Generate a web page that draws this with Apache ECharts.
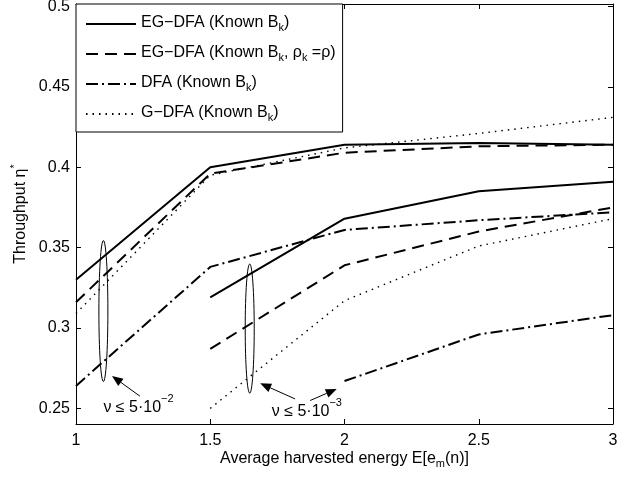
<!DOCTYPE html>
<html>
<head>
<meta charset="utf-8">
<script src="https://cdn.jsdelivr.net/npm/echarts@6/dist/echarts.min.js"></script>
<style>
  html, body { margin: 0; padding: 0; background: #fff; }
  #chart { width: 639px; height: 478px; }
</style>
</head>
<body>
<div id="chart"></div>
<script>
// x: average harvested energy
var energy = [1, 1.5, 2, 2.5, 3];
var yTicks = [0.25, 0.3, 0.35, 0.4, 0.45, 0.5];

// nu <= 5e-2
var egdfaHigh    = [0.330, 0.400, 0.414, 0.415, 0.414];
var egdfaRhoHigh = [0.316, 0.396, 0.409, 0.413, 0.414];
var dfaHigh      = [0.264, 0.338, 0.361, 0.367, 0.372];
var gdfaHigh     = [0.309, 0.395, 0.412, 0.421, 0.431];
// nu <= 5e-3
var egdfaLow     = [null, 0.319, 0.368, 0.385, 0.391];
var egdfaRhoLow  = [null, 0.287, 0.339, 0.360, 0.375];
var dfaLow       = [null, null, 0.267, 0.296, 0.308];
var gdfaLow      = [null, 0.250, 0.317, 0.351, 0.368];

var names = ['EG−DFA (Known Bk)', 'EG−DFA (Known Bk, ρk =ρ)', 'DFA (Known Bk)', 'G−DFA (Known Bk)'];
var richNames = {
  'EG−DFA (Known Bk)': '{m|EG−DFA (Known B}{sub|k}{m|)}',
  'EG−DFA (Known Bk, ρk =ρ)': '{m|EG−DFA (Known B}{sub|k}{m|, ρ}{sub|k}{m| =ρ)}',
  'DFA (Known Bk)': '{m|DFA (Known B}{sub|k}{m|)}',
  'G−DFA (Known Bk)': '{m|G−DFA (Known B}{sub|k}{m|)}'
};

var FONT = 'Liberation Sans, Arial, Helvetica, sans-serif';
var mainStyle = { fontSize: 16, lineHeight: 18, verticalAlign: 'top', fontFamily: FONT, color: '#000' };
var subStyle = { fontSize: 11, lineHeight: 12, padding: [12, 0, 0, 0], verticalAlign: 'bottom', fontFamily: FONT, color: '#000' };
var supStyle = { fontSize: 11, lineHeight: 11, verticalAlign: 'top', fontFamily: FONT, color: '#000' };

function pairs(arr) {
  return energy.map(function (x, i) { return [x, arr[i]]; });
}

var styles = {
  solid:   { type: 'solid', width: 2 },
  dashed:  { type: [12, 7], width: 2 },
  dashdot: { type: [12, 4, 2, 4], width: 2 },
  dotted:  { type: [1.5, 5], width: 1.4 }
};

function line(name, arr, st) {
  return {
    name: name,
    type: 'line',
    data: pairs(arr),
    symbol: 'none',
    connectNulls: false,
    lineStyle: { color: '#000', width: st.width, type: st.type },
    itemStyle: { color: '#000' },
    z: 2
  };
}

function axisCommon() {
  return {
    axisLine: { show: true, lineStyle: { color: '#000', width: 1 } },
    axisTick: { show: true, inside: true, length: 5, lineStyle: { color: '#000', width: 1 } },
    splitLine: { show: false }
  };
}

var yMin = 0.2403, yMax = 0.5015;

var xBottom = Object.assign(axisCommon(), {
  type: 'value', position: 'bottom', min: 1, max: 3, interval: 0.5,
  axisLabel: { color: '#000', fontSize: 16, fontFamily: FONT, margin: 9 },
  name: '{m|Average harvested energy E[e}{sub|m}{m|(n)]}',
  nameLocation: 'middle', nameGap: 27, nameMoveOverlap: false,
  nameTextStyle: { color: '#000', fontSize: 16, fontFamily: FONT, rich: { m: mainStyle, sub: subStyle } }
});
var xTop = Object.assign(axisCommon(), {
  type: 'value', position: 'top', min: 1, max: 3, interval: 0.5,
  axisLabel: { show: false }
});
var yLeft = Object.assign(axisCommon(), {
  type: 'value', position: 'left', min: yMin, max: yMax,
  axisTick: { show: true, inside: true, length: 5, customValues: yTicks, lineStyle: { color: '#000' } },
  axisLabel: { color: '#000', fontSize: 16, fontFamily: FONT, margin: 6, customValues: yTicks },
  name: 'Throughput η{sup|*}',
  nameLocation: 'middle', nameGap: 43, nameRotate: 90, nameMoveOverlap: false,
  nameTextStyle: { color: '#000', fontSize: 16, fontFamily: FONT, lineHeight: 24, rich: { sup: supStyle } }
});
var yRight = Object.assign(axisCommon(), {
  type: 'value', position: 'right', min: yMin, max: yMax,
  axisTick: { show: true, inside: true, length: 5, customValues: yTicks, lineStyle: { color: '#000' } },
  axisLabel: { show: false }
});

var chart = echarts.init(document.getElementById('chart'));
chart.setOption({
  animation: false,
  backgroundColor: '#fff',
  grid: { left: 76, right: 26, top: 4, bottom: 54, outerBoundsMode: 'none' },
  xAxis: [xBottom, xTop],
  yAxis: [yLeft, yRight],
  legend: {
    orient: 'vertical', left: 76, top: 4,
    padding: [6, 7, 9, 9],
    itemWidth: 50, itemHeight: 14, itemGap: 7,
    backgroundColor: '#fff', borderColor: '#000', borderWidth: 1, borderRadius: 0,
    itemStyle: { opacity: 0 },
    data: names,
    formatter: function (n) { return richNames[n]; },
    textStyle: { color: '#000', fontSize: 16, fontFamily: FONT, rich: { m: mainStyle, sub: subStyle } },
    selectedMode: false
  },
  series: [
    line(names[0], egdfaHigh, styles.solid),
    line(names[1], egdfaRhoHigh, styles.dashed),
    line(names[2], dfaHigh, styles.dashdot),
    line(names[3], gdfaHigh, styles.dotted),
    line(names[0], egdfaLow, styles.solid),
    line(names[1], egdfaRhoLow, styles.dashed),
    line(names[2], dfaLow, styles.dashdot),
    line(names[3], gdfaLow, styles.dotted)
  ]
});

// annotations (ellipses, arrows, nu labels) placed in data coordinates
function px(p) { return chart.convertToPixel({ xAxisIndex: 0, yAxisIndex: 0 }, p); }

function ellipse(x, yTop, yBot) {
  var a = px([x, yTop]), b = px([x, yBot]);
  return {
    type: 'ellipse', z: 10,
    shape: { cx: a[0], cy: (a[1] + b[1]) / 2, rx: 4.5, ry: (b[1] - a[1]) / 2 },
    style: { fill: 'none', stroke: '#000', lineWidth: 1 }
  };
}

function arrow(from, to) {
  var s = px(from), t = px(to);
  var dx = t[0] - s[0], dy = t[1] - s[1];
  var len = Math.sqrt(dx * dx + dy * dy);
  var ux = dx / len, uy = dy / len;
  var bx = t[0] - ux * 11, by = t[1] - uy * 11;
  return [
    { type: 'line', z: 10, shape: { x1: s[0], y1: s[1], x2: bx, y2: by }, style: { stroke: '#000', lineWidth: 1 } },
    { type: 'polygon', z: 10,
      shape: { points: [[t[0], t[1]], [bx - uy * 4.5, by + ux * 4.5], [bx + uy * 4.5, by - ux * 4.5]] },
      style: { fill: '#000' } }
  ];
}

function nuLabel(p, exp) {
  var q = px(p);
  return {
    type: 'text', z: 10, x: q[0], y: q[1],
    style: {
      text: '{m|ν ≤ 5·10}{sup|−' + exp + '}',
      align: 'left', verticalAlign: 'middle',
      font: '16px ' + FONT, fill: '#000',
      rich: { m: { fontSize: 16, lineHeight: 28, fontFamily: FONT }, sup: { fontSize: 11, lineHeight: 11, verticalAlign: 'top', fontFamily: FONT } }
    }
  };
}

var graphics = [
  ellipse(1.102, 0.3544, 0.2667),
  ellipse(1.647, 0.3398, 0.2595),
  nuLabel([1.102, 0.2504], '2'),
  nuLabel([1.729, 0.2482], '3')
]
  .concat(arrow([1.238, 0.2576], [1.134, 0.2702]))
  .concat(arrow([1.816, 0.2559], [1.686, 0.2656]))
  .concat(arrow([1.872, 0.2549], [1.971, 0.2621]));

chart.setOption({ graphic: graphics });
</script>
</body>
</html>
